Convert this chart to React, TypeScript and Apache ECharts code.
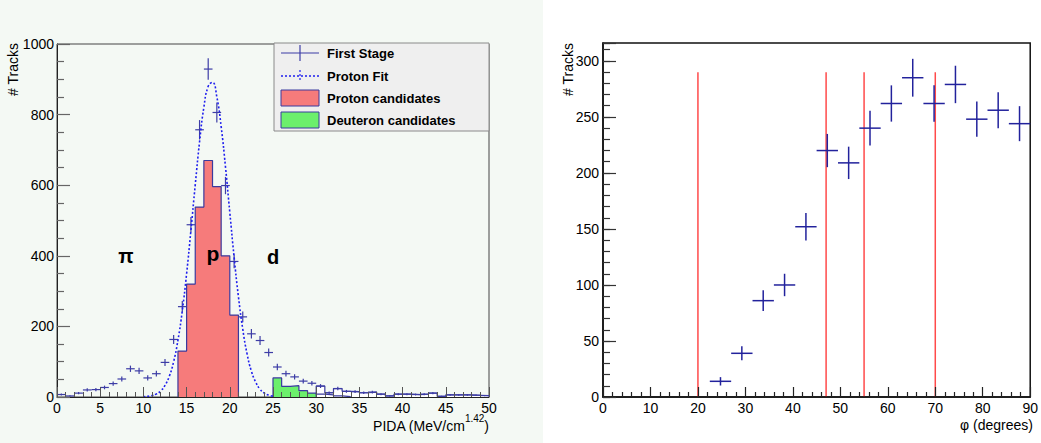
import React, { useEffect, useRef } from "react";
import * as echarts from "echarts";

// ---------------- Left panel: PIDA spectrum (1-unit bins, 0..50) ----------------
const PIDA_BIN_LOW = [
  0, 1, 2, 3, 4, 5, 6, 7, 8, 9, 10, 11, 12, 13, 14, 15, 16, 17, 18, 19, 20, 21, 22, 23, 24,
  25, 26, 27, 28, 29, 30, 31, 32, 33, 34, 35, 36, 37, 38, 39, 40, 41, 42, 43, 44, 45, 46, 47, 48, 49,
];
const FIRST_STAGE = [
  7, 3, 11, 20, 21, 27, 38, 51, 80, 74, 54, 66, 98, 163, 256, 488, 757, 929, 806, 599, 384, 227, 179, 160, 126,
  85, 66, 57, 45, 39, 31, 12, 24, 16, 15, 12, 14, 8, 3, 8, 8, 7, 8, 11, 2, 6, 6, 6, 5, 4,
];
const PROTON_BIN_LOW = [14, 15, 16, 17, 18, 19, 20];
const PROTON_CANDIDATES = [130, 320, 538, 670, 596, 400, 232];
const DEUTERON_BIN_LOW = [25, 26, 27, 28, 29, 30, 31, 32, 33];
const DEUTERON_CANDIDATES = [54, 30, 32, 18, 11, 8, 6, 3, 1];
const TAIL_FROM_BIN = 30; // first-stage outline drawn from this bin on
const FIT_X = [10, 11, 11.5, 12, 12.5, 13, 13.5, 14, 14.5, 15, 15.5, 16, 16.5, 17, 17.5, 18, 18.5, 19, 19.5, 20, 20.5, 21, 21.5, 22, 22.5, 23, 23.5, 24, 24.5, 25];
const FIT_Y = [0.7, 3.9, 8.5, 17, 33, 59, 100, 161, 244, 349, 472, 601, 723, 821, 880, 891, 850, 766, 652, 523, 396, 284, 192, 122, 73, 42, 22, 11, 5.4, 2.4];

// ---------------- Right panel: phi distribution ----------------
const PHI_CENTERS = [24.75, 29.25, 33.75, 38.25, 42.75, 47.25, 51.75, 56.25, 60.75, 65.25, 69.75, 74.25, 78.75, 83.25, 87.75];
const PHI_TRACKS = [14, 39, 86, 100, 152, 220, 209, 240, 262, 285, 262, 279, 248, 256, 244];
const PHI_BIN_WIDTH = 4.5;
const PHI_CUTS = [20, 47, 55, 70];
const CUT_TOP = 290;

const FONT = "'Liberation Sans', Arial, Helvetica, sans-serif";
const CROSS_LEFT = "#3d3da6";
const CROSS_RIGHT = "#22229c";
const FIT_COLOR = "#1f1fee";
const HIST_EDGE = "#3a3a9e";
const PROTON_FILL = "#f67b7b";
const DEUTERON_FILL = "#6cef6c";

function stepOutline(lows: number[], vals: number[], width: number) {
  const pts: number[][] = [[lows[0], 0]];
  lows.forEach((lo, i) => {
    pts.push([lo, vals[i]]);
    pts.push([lo + width, vals[i]]);
  });
  pts.push([lows[lows.length - 1] + width, 0]);
  return pts;
}

function crossRenderer(halfWidth: number, color: string, lw: number) {
  return (_params: any, api: any) => {
    const x = api.value(0);
    const y = api.value(1);
    const e = Math.sqrt(y);
    const pL = api.coord([x - halfWidth, y]);
    const pR = api.coord([x + halfWidth, y]);
    const pT = api.coord([x, y + e]);
    const pB = api.coord([x, Math.max(0, y - e)]);
    return {
      type: "group",
      children: [
        { type: "line", shape: { x1: pL[0], y1: pL[1], x2: pR[0], y2: pR[1] }, style: { stroke: color, lineWidth: lw } },
        { type: "line", shape: { x1: pT[0], y1: pT[1], x2: pB[0], y2: pB[1] }, style: { stroke: color, lineWidth: lw } },
      ],
    };
  };
}

function valueAxis(extra: any) {
  return {
    type: "value",
    z: 5,
    splitLine: { show: false },
    minorSplitLine: { show: false },
    axisLine: { show: true, onZero: false, lineStyle: { color: "#222", width: 1 } },
    ...extra,
  };
}

const plain = (v: number) => String(v);

export default function App() {
  const ref = useRef<HTMLDivElement>(null);

  useEffect(() => {
    const chart = echarts.init(ref.current!, null, { renderer: "svg" });

    const firstStagePts = PIDA_BIN_LOW.map((lo, i) => [lo + 0.5, FIRST_STAGE[i]]);
    const tailIdx = PIDA_BIN_LOW.indexOf(TAIL_FROM_BIN);
    const tailOutline = stepOutline(PIDA_BIN_LOW.slice(tailIdx), FIRST_STAGE.slice(tailIdx), 1);
    const protonOutline = stepOutline(PROTON_BIN_LOW, PROTON_CANDIDATES, 1);
    const deuteronOutline = stepOutline(DEUTERON_BIN_LOW, DEUTERON_CANDIDATES, 1);
    const fitPts = FIT_X.map((x, i) => [x, FIT_Y[i]]);
    const phiPts = PHI_CENTERS.map((x, i) => [x, PHI_TRACKS[i]]);

    const option: any = {
      animation: false,
      backgroundColor: "#ffffff",
      textStyle: { fontFamily: FONT },
      grid: [
        { left: 57, top: 44, right: 552, bottom: 46, show: true, borderColor: "#444", borderWidth: 1, backgroundColor: "transparent", z: 1 },
        { left: 603, top: 43, right: 8, bottom: 46, show: true, borderColor: "#111", borderWidth: 1.5, backgroundColor: "transparent", z: 1 },
      ],
      xAxis: [
        valueAxis({
          gridIndex: 0, min: 0, max: 50, interval: 5,
          axisTick: { show: true, inside: true, length: 10, lineStyle: { color: "#555" } },
          minorTick: { show: true, splitNumber: 5, length: 5, lineStyle: { color: "#555" } },
          axisLabel: { margin: 4, fontSize: 14, color: "#000", fontFamily: FONT, formatter: plain },
        }),
        valueAxis({
          gridIndex: 1, min: 0, max: 90, interval: 10,
          axisLine: { show: true, onZero: false, lineStyle: { color: "#111", width: 1.5 } },
          axisTick: { show: true, inside: true, length: 10, lineStyle: { color: "#222", width: 1.2 } },
          minorTick: { show: true, splitNumber: 5, length: 5, lineStyle: { color: "#222", width: 1.2 } },
          axisLabel: { margin: 4, fontSize: 14, color: "#000", fontFamily: FONT, formatter: plain },
        }),
      ],
      yAxis: [
        valueAxis({
          gridIndex: 0, min: 0, max: 1000, interval: 200, position: "left",
          axisTick: { show: true, inside: true, length: 13, lineStyle: { color: "#666", width: 1.2 } },
          minorTick: { show: true, splitNumber: 4, length: 7, lineStyle: { color: "#666", width: 1.2 } },
          axisLabel: { margin: 3, fontSize: 14, color: "#000", fontFamily: FONT, formatter: plain },
        }),
        valueAxis({
          gridIndex: 1, min: 0, max: 316, interval: 50, position: "left", offset: 0,
          axisLine: { show: true, onZero: false, lineStyle: { color: "#111", width: 1.5 } },
          axisTick: { show: true, inside: true, length: 13, lineStyle: { color: "#333", width: 1.2 } },
          axisLabel: {
            margin: 4, fontSize: 14, color: "#000", fontFamily: FONT,
            formatter: (v: number) => (v % 50 === 0 ? String(v) : ""),
          },
        }),
        valueAxis({
          gridIndex: 1, min: 0, max: 316, interval: 10, position: "left", offset: 0,
          axisLine: { show: false },
          axisTick: { show: true, inside: true, length: 7, lineStyle: { color: "#333", width: 1.2 } },
          axisLabel: { show: false },
        }),
      ],
      series: [
        {
          name: "Proton candidates", type: "line", xAxisIndex: 0, yAxisIndex: 0,
          data: protonOutline, symbol: "none", z: 2,
          lineStyle: { color: HIST_EDGE, width: 1.2 },
          areaStyle: { color: PROTON_FILL, opacity: 1 },
        },
        {
          name: "Deuteron candidates", type: "line", xAxisIndex: 0, yAxisIndex: 0,
          data: deuteronOutline, symbol: "none", z: 2,
          lineStyle: { color: HIST_EDGE, width: 1.2 },
          areaStyle: { color: DEUTERON_FILL, opacity: 1 },
        },
        {
          name: "tail", type: "line", xAxisIndex: 0, yAxisIndex: 0,
          data: tailOutline, symbol: "none", z: 2,
          lineStyle: { color: HIST_EDGE, width: 1.2 },
          areaStyle: { color: "#ffffff", opacity: 1 },
        },
        {
          name: "First Stage", type: "custom", xAxisIndex: 0, yAxisIndex: 0,
          data: firstStagePts, renderItem: crossRenderer(0.5, CROSS_LEFT, 1.2), z: 3,
        },
        {
          name: "Proton Fit", type: "line", xAxisIndex: 0, yAxisIndex: 0,
          data: fitPts, symbol: "none", smooth: true, z: 4,
          lineStyle: { color: FIT_COLOR, width: 1.6, type: [2, 2] },
        },
        {
          name: "cuts", type: "custom", xAxisIndex: 1, yAxisIndex: 1,
          data: PHI_CUTS.map((c) => [c, CUT_TOP]), z: 3,
          renderItem: (_p: any, api: any) => {
            const a = api.coord([api.value(0), 0]);
            const b = api.coord([api.value(0), api.value(1)]);
            return { type: "line", shape: { x1: a[0], y1: a[1], x2: b[0], y2: b[1] }, style: { stroke: "#ff4a4a", lineWidth: 1.5 } };
          },
        },
        {
          name: "phi", type: "custom", xAxisIndex: 1, yAxisIndex: 1,
          data: phiPts, renderItem: crossRenderer(PHI_BIN_WIDTH / 2, CROSS_RIGHT, 1.5), z: 4,
        },
      ],
      graphic: [
        { type: "rect", z: -10, silent: true, shape: { x: 0, y: 0, width: 543, height: 443 }, style: { fill: "#f4f9f4" } },
        // left axis titles
        { type: "text", x: 13, y: 43, rotation: Math.PI / 2, z: 50, style: { text: "# Tracks", fontSize: 14, fontFamily: FONT, fill: "#000", align: "right", verticalAlign: "middle" } },
        {
          type: "text", x: 489, y: 423, z: 50,
          style: {
            text: "{b|PIDA (MeV/cm}{s|1.42}{b|)}", align: "right", verticalAlign: "middle", fill: "#000",
            rich: {
              b: { fontSize: 14, fontFamily: FONT, lineHeight: 19, verticalAlign: "bottom", fill: "#000" },
              s: { fontSize: 10, fontFamily: FONT, lineHeight: 19, verticalAlign: "top", fill: "#000" },
            },
          },
        },
        // region labels
        { type: "text", x: 126, y: 256, z: 50, style: { text: "π", fontSize: 20, fontWeight: "bold", fontFamily: FONT, fill: "#000", align: "center", verticalAlign: "middle" } },
        { type: "text", x: 213, y: 253, z: 50, style: { text: "p", fontSize: 21, fontWeight: "bold", fontFamily: FONT, fill: "#000", align: "center", verticalAlign: "middle" } },
        { type: "text", x: 273, y: 257, z: 50, style: { text: "d", fontSize: 20, fontWeight: "bold", fontFamily: FONT, fill: "#000", align: "center", verticalAlign: "middle" } },
        // legend
        { type: "rect", z: 60, shape: { x: 274, y: 43, width: 215, height: 88 }, style: { fill: "#efefef", stroke: "#8a8a8a", lineWidth: 1 } },
        { type: "line", z: 61, shape: { x1: 281, y1: 53, x2: 319, y2: 53 }, style: { stroke: CROSS_LEFT, lineWidth: 1.2 } },
        { type: "line", z: 61, shape: { x1: 300, y1: 45, x2: 300, y2: 61 }, style: { stroke: CROSS_LEFT, lineWidth: 1.2 } },
        { type: "text", z: 61, x: 327, y: 53, style: { text: "First Stage", fontSize: 13, fontWeight: "bold", fontFamily: FONT, fill: "#000", verticalAlign: "middle" } },
        { type: "line", z: 61, shape: { x1: 281, y1: 76, x2: 319, y2: 76 }, style: { stroke: FIT_COLOR, lineWidth: 1.5, lineDash: [2, 2] } },
        { type: "line", z: 61, shape: { x1: 300, y1: 70, x2: 300, y2: 82 }, style: { stroke: FIT_COLOR, lineWidth: 1.2, lineDash: [2, 2] } },
        { type: "text", z: 61, x: 327, y: 76, style: { text: "Proton Fit", fontSize: 13, fontWeight: "bold", fontFamily: FONT, fill: "#000", verticalAlign: "middle" } },
        { type: "rect", z: 61, shape: { x: 281, y: 90, width: 38, height: 16 }, style: { fill: PROTON_FILL, stroke: HIST_EDGE, lineWidth: 1 } },
        { type: "text", z: 61, x: 327, y: 98, style: { text: "Proton candidates", fontSize: 13, fontWeight: "bold", fontFamily: FONT, fill: "#000", verticalAlign: "middle" } },
        { type: "rect", z: 61, shape: { x: 281, y: 112, width: 38, height: 16 }, style: { fill: DEUTERON_FILL, stroke: HIST_EDGE, lineWidth: 1 } },
        { type: "text", z: 61, x: 327, y: 120, style: { text: "Deuteron candidates", fontSize: 13, fontWeight: "bold", fontFamily: FONT, fill: "#000", verticalAlign: "middle" } },
        // right axis titles
        { type: "text", x: 568, y: 43, rotation: Math.PI / 2, z: 50, style: { text: "# Tracks", fontSize: 14, fontFamily: FONT, fill: "#000", align: "right", verticalAlign: "middle" } },
        { type: "text", x: 1033, y: 425, z: 50, style: { text: "φ (degrees)", fontSize: 14, fontFamily: FONT, fill: "#000", align: "right", verticalAlign: "middle" } },
      ],
    };

    chart.setOption(option);
    return () => chart.dispose();
  }, []);

  return <div ref={ref} style={{ position: "absolute", left: 0, top: 0, width: 1041, height: 443 }} />;
}
